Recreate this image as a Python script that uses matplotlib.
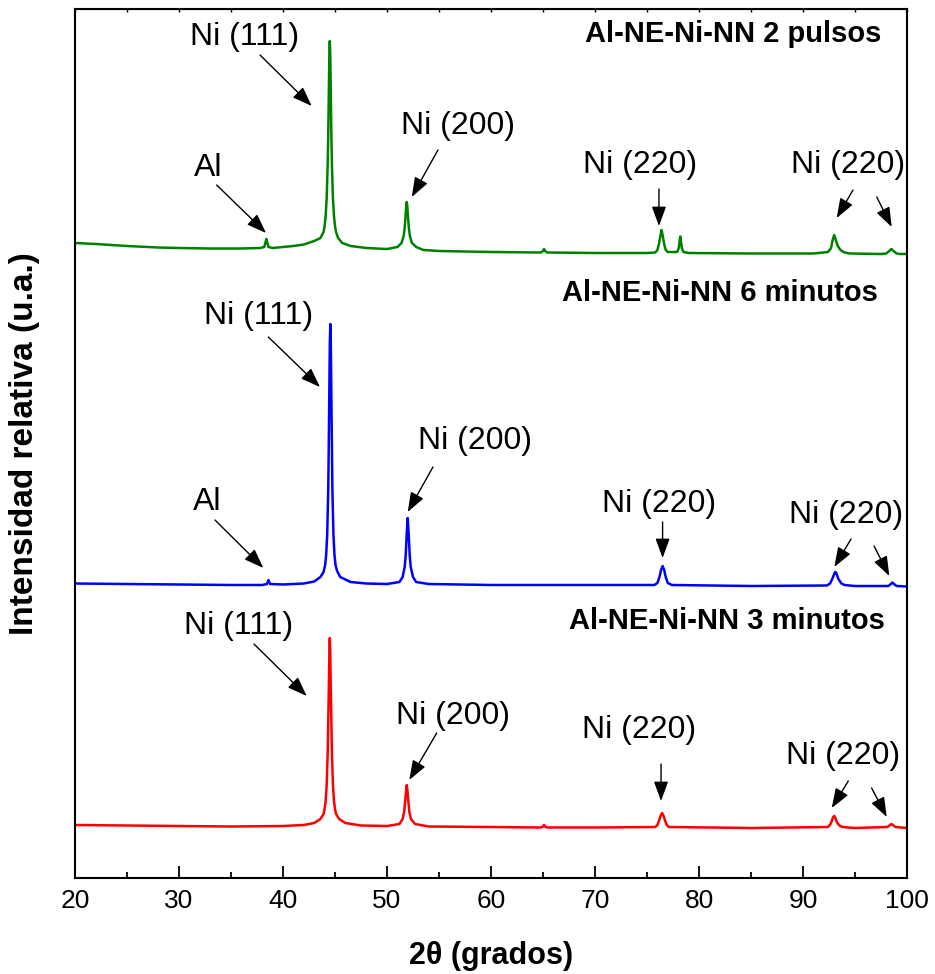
import matplotlib
matplotlib.use("Agg")
import matplotlib.pyplot as plt
import numpy as np

plt.rcParams['font.family'] = ['Liberation Sans', 'DejaVu Sans']

# ---- XRD patterns (2theta in degrees, intensity in a.u. above each trace's baseline) ----
tt_3min = [20, 25, 30, 35, 40, 42, 43, 43.6, 43.9, 44.0, 44.1, 44.2, 44.3, 44.4, 44.45, 44.5,
           44.55, 44.6, 44.7, 44.8, 44.9, 45.0, 45.1, 45.4, 46, 47.5, 50, 51.2, 51.5, 51.65, 51.75,
           51.85, 51.9, 51.95, 52.05, 52.15, 52.3, 52.7, 54, 60, 64.8, 65.0, 65.1, 65.2, 65.4, 70,
           75.8, 76.0, 76.15, 76.3, 76.45, 76.6, 76.75, 76.9, 77.1, 85, 92.4, 92.65, 92.8, 92.9,
           93.0, 93.1, 93.25, 93.5, 93.8, 95, 98.1, 98.35, 98.5, 98.65, 98.9, 100]
int_3min = [2, 1.5, 1, 0.5, 1, 2, 4, 8, 13, 18, 26, 42, 75, 135, 170, 189,
            170, 135, 75, 42, 26, 18, 13, 8, 4, 1.5, 1, 3, 8, 15, 26,
            38, 42, 38, 26, 15, 8, 3, 0.5, 0, -0.5, 0.5, 2, 0.5, -0.5, -0.5,
            0, 2, 6, 11, 14, 11, 6, 2, 0, -1, 0, 3, 7, 10,
            11, 9.5, 5, 1.5, 0, -1, 0, 1.8, 3, 1.8, 0, -1]

tt_6min = [20, 25, 30, 35, 38.0, 38.45, 38.6, 38.75, 40, 42, 43, 43.6, 43.9, 44.05, 44.15, 44.25,
           44.35, 44.4, 44.45, 44.5, 44.55, 44.6, 44.65, 44.7, 44.75, 44.85, 44.95, 45.05, 45.2,
           45.5, 46.5, 48, 50, 51.2, 51.5, 51.7, 51.8, 51.9, 51.99, 52.08, 52.18, 52.28, 52.5, 52.8,
           54, 60, 70, 75.7, 76.0, 76.2, 76.35, 76.5, 76.65, 76.8, 77.0, 77.4, 85, 92.3, 92.6,
           92.85, 93.0, 93.1, 93.2, 93.4, 93.7, 94.0, 95, 98.2, 98.45, 98.6, 98.75, 99, 100]
int_6min = [1.5, 1, 0.5, 0, 0, 1, 5, 1, 0.5, 1.5, 3.5, 8, 13, 20, 30, 50,
            95, 140, 190, 240, 261, 240, 190, 140, 95, 50, 30, 20, 14,
            8, 3, 1.5, 1, 3, 8, 18, 30, 52, 67, 52, 30, 18, 8, 3,
            1, 0, 0, 0, 2, 8, 15, 19, 15, 8, 2, 0, -1, -0.5, 1.5,
            7, 11, 13, 12, 6, 1.5, 0, -1, -1, 1, 2.5, 1, -1, -1.5]

tt_2pul = [20, 22, 25, 28, 30, 33, 36, 37.8, 38.2, 38.3, 38.4, 38.5, 38.6, 39.0, 40, 41, 42, 43,
           43.6, 43.9, 44.0, 44.1, 44.2, 44.3, 44.35, 44.4, 44.45, 44.5, 44.55, 44.6, 44.65, 44.7,
           44.8, 44.9, 45.0, 45.1, 45.3, 45.7, 46.5, 48, 50, 51.0, 51.4, 51.6, 51.7, 51.8, 51.85,
           51.9, 51.95, 52.0, 52.1, 52.2, 52.4, 52.8, 53.5, 55, 60, 64.8, 65.0, 65.1, 65.2, 65.4,
           70, 75, 75.8, 76.0, 76.15, 76.3, 76.4, 76.5, 76.65, 76.8, 77.0, 77.9, 78.05, 78.15,
           78.2, 78.25, 78.35, 78.5, 79, 85, 91, 92.4, 92.7, 92.85, 93.0, 93.15, 93.35, 93.6, 94.0,
           94.5, 97.5, 98.0, 98.3, 98.5, 98.7, 99.0, 99.3, 100]
int_2pul = [5, 4, 2, 0.5, 0, -0.5, -0.5, 0, 1, 5, 9, 5, 1, 0, 1, 2, 3.5, 7,
            10, 16, 22, 32, 50, 85, 113, 150, 190, 207, 190, 150, 113, 85,
            50, 32, 22, 16, 10, 5, 2, 0, -1, 1, 5, 12, 20, 34, 42,
            46, 42, 34, 20, 12, 5, 1, -2, -3, -4, -4.5, -3, -1, -3, -4.5,
            -5, -5, -4.5, -2, 4, 13, 18, 13, 4, -2, -4, -4, 0, 8,
            11.5, 8, 0, -4, -5, -5.5, -5.5, -4, 0, 8, 13, 8, 2, -2, -4.5,
            -5.5, -6, -5.5, -3, -1, -3, -5.5, -6, -6]

offsets = {'3min': 51, '6min': 293, '2pul': 630}
series_labels = ['Al-NE-Ni-NN 3 minutos', 'Al-NE-Ni-NN 6 minutos', 'Al-NE-Ni-NN 2 pulsos']
colors = ['#ff0000', '#0000ff', '#008000']

fig = plt.figure(figsize=(9.35, 9.74), dpi=100)
ax = fig.add_axes([75 / 935, 96 / 974, 832 / 935, 869 / 974])

ax.plot(tt_3min, np.array(int_3min) + offsets['3min'], color=colors[0], lw=1.8)
ax.plot(tt_6min, np.array(int_6min) + offsets['6min'], color=colors[1], lw=1.8)
ax.plot(tt_2pul, np.array(int_2pul) + offsets['2pul'], color=colors[2], lw=1.8)

ax.set_xlim(20, 100)
ax.set_ylim(0, 869)
ax.set_yticks([])
ax.set_xticks(np.arange(20, 101, 10))
ax.set_xticks(np.arange(25, 100, 10), minor=True)
ax.tick_params(axis='x', which='major', direction='in', length=8.5, width=1.3,
               labelsize=19, pad=8)
ax.tick_params(axis='x', which='minor', direction='in', length=4.3, width=1.3)
for s in ax.spines.values():
    s.set_linewidth(1.5)

# small ticks along the top edge
top = ax.secondary_xaxis('top')
top.set_xticks(np.arange(20, 101, 5))
top.tick_params(direction='in', length=2, width=1, labeltop=False)
top.set_xticklabels([])

ax.set_xlabel('2θ (grados)', fontsize=22, fontweight='bold', labelpad=20)
ax.set_ylabel('Intensidad relativa (u.a.)', fontsize=24, fontweight='bold', labelpad=25)

# series names
ax.text(97.57, 844, series_labels[2], fontsize=21, fontweight='bold', ha='right', va='center')
ax.text(97.21, 585, series_labels[1], fontsize=21, fontweight='bold', ha='right', va='center')
ax.text(97.88, 257, series_labels[0], fontsize=21, fontweight='bold', ha='right', va='center')

arrow = dict(arrowstyle='-|>,head_length=0.6,head_width=0.22', color='black', lw=1,
             mutation_scale=20, shrinkA=0, shrinkB=0)


def tag(text, tx, ty, arrows):
    ax.text(tx, ty, text, fontsize=23, ha='center', va='center')
    for tail, head in arrows:
        ax.annotate('', xy=head, xytext=tail, arrowprops=arrow)


# 2 pulsos
tag('Ni (111)', 36.35, 841, [((37.79, 823), (42.76, 772))])
tag('Al', 32.79, 710, [((33.62, 693), (38.37, 645))])
tag('Ni (200)', 56.78, 752, [((54.9, 728), (52.38, 681))])
tag('Ni (220)', 74.33, 713, [((76.15, 689), (76.15, 652))])
tag('Ni (220)', 94.33, 713, [((94.81, 688), (93.24, 660)), ((97.09, 681), (98.53, 651))])

# 6 minutos
tag('Ni (111)', 37.69, 562, [((38.59, 541), (43.56, 491))])
tag('Al', 32.69, 376, [((33.46, 358), (38.11, 310))])
tag('Ni (200)', 58.46, 437, [((54.42, 411), (51.99, 366))])
tag('Ni (220)', 76.15, 374, [((76.5, 356), (76.5, 320))])
tag('Ni (220)', 94.13, 363, [((94.62, 339), (93.01, 311)), ((96.83, 332), (98.3, 302))])

# 3 minutos
tag('Ni (111)', 35.77, 252, [((37.21, 234), (42.28, 182))])
tag('Ni (200)', 56.35, 162, [((54.78, 145), (52.14, 98))])
tag('Ni (220)', 74.23, 148, [((76.35, 114), (76.35, 77))])
tag('Ni (220)', 93.85, 122, [((94.36, 97), (92.76, 70)), ((96.6, 90), (98.05, 61))])

fig.savefig('out.png', dpi=100)
